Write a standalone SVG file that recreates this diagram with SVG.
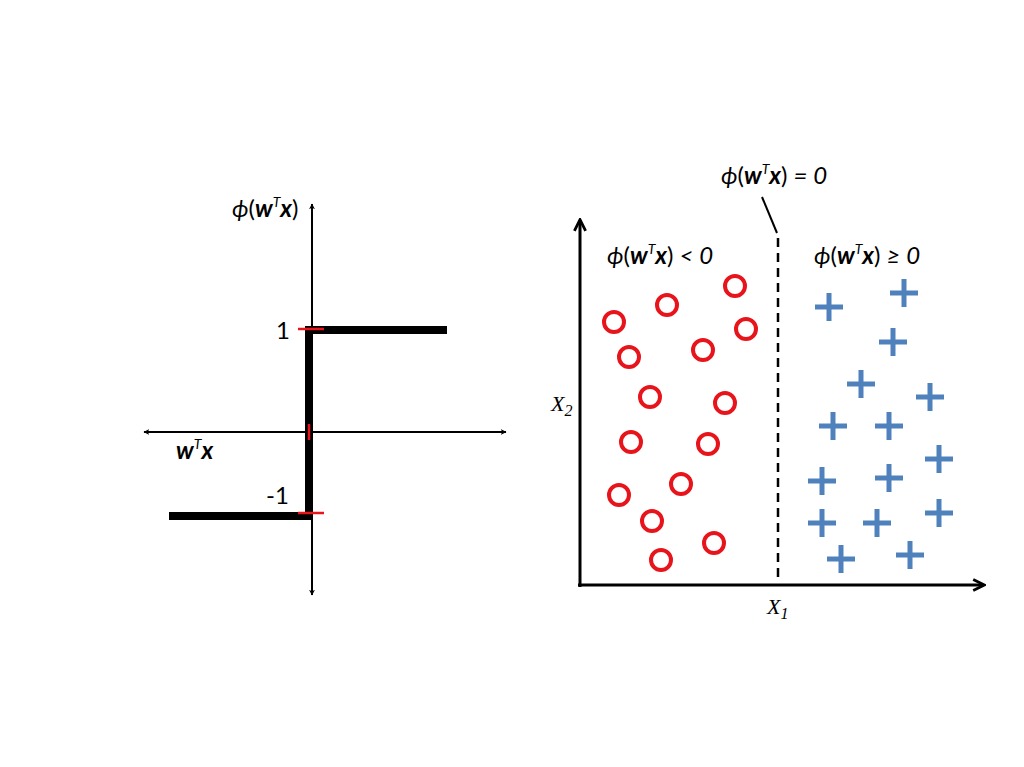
<svg xmlns="http://www.w3.org/2000/svg" width="1024" height="767" viewBox="0 0 1024 767">
<defs>
<marker id="ah" viewBox="0 0 10 10" refX="9" refY="5" markerWidth="6" markerHeight="6" orient="auto-start-reverse" markerUnits="userSpaceOnUse">
<path d="M0,0 L10,5 L0,10 L3,5 z" fill="#000"/>
</marker>
<marker id="ah2" viewBox="0 0 10 10" refX="8" refY="5" markerWidth="14" markerHeight="14" orient="auto-start-reverse" markerUnits="userSpaceOnUse">
<path d="M1,1 L9,5 L1,9" fill="none" stroke="#000" stroke-width="2"/>
</marker>
<style>
.lab{font-family:Lato,"Open Sans","Liberation Sans",sans-serif;font-size:24px;fill:#000}
.it{font-style:italic}
.b{font-weight:bold}
.sup{font-size:14px}
.ser{font-family:"Liberation Serif",serif;font-style:italic;font-size:22px;fill:#000}
.axis{stroke:#000;stroke-width:2;fill:none}
.step{stroke:#000;stroke-width:8;fill:none}
.tick{stroke:#e8141b;stroke-width:2.5}
.circ{fill:none;stroke:#e8141b;stroke-width:4}
.plus{stroke:#4f81bd;stroke-width:5}
</style>
</defs>
<rect width="1024" height="767" fill="#fff"/>

<g id="step-plot">
<line class="axis" x1="312" y1="595" x2="312" y2="204" marker-start="url(#ah)" marker-end="url(#ah)"/>
<line class="axis" x1="144" y1="432" x2="506" y2="432" marker-start="url(#ah)" marker-end="url(#ah)"/>
<path class="step" d="M447,330 H309 V516 H169"/>
<line class="tick" x1="298" y1="329" x2="324" y2="329"/>
<line class="tick" x1="298" y1="513" x2="324" y2="513"/>
<line class="tick" x1="309" y1="424" x2="309" y2="440"/>
<text class="lab" x="276" y="339">1</text>
<text class="lab" x="266" y="504">-1</text>
<text class="lab it b" x="176" y="459">w<tspan class="sup" dy="-10" font-weight="normal">T</tspan><tspan dy="10">x</tspan></text>
<text class="lab" x="232" y="217"><tspan class="it">ϕ</tspan>(<tspan class="it b">w</tspan><tspan class="it sup" dy="-10">T</tspan><tspan class="it b" dy="10">x</tspan>)</text>
</g>

<g id="scatter-axes">
<line x1="580" y1="587" x2="580" y2="221" stroke="#000" stroke-width="3" fill="none" marker-end="url(#ah2)"/>
<line x1="578" y1="585" x2="983" y2="585" stroke="#000" stroke-width="3" fill="none" marker-end="url(#ah2)"/>
<text class="ser" x="551" y="411">X<tspan font-size="16" dy="5">2</tspan></text>
<text class="ser" x="767" y="614">X<tspan font-size="16" dy="5">1</tspan></text>
</g>

<g id="boundary">
<line x1="778" y1="238" x2="778" y2="582" stroke="#000" stroke-width="2.5" stroke-dasharray="9,6"/>
<line x1="762" y1="197" x2="777" y2="233" stroke="#000" stroke-width="2"/>
<text class="lab" x="721" y="184"><tspan class="it">ϕ</tspan>(<tspan class="it b">w</tspan><tspan class="it sup" dy="-10">T</tspan><tspan class="it b" dy="10">x</tspan>) <tspan class="it">= 0</tspan></text>
<text class="lab" x="607" y="264"><tspan class="it">ϕ</tspan>(<tspan class="it b">w</tspan><tspan class="it sup" dy="-10">T</tspan><tspan class="it b" dy="10">x</tspan>) <tspan class="it">&lt; 0</tspan></text>
<text class="lab" x="814" y="264"><tspan class="it">ϕ</tspan>(<tspan class="it b">w</tspan><tspan class="it sup" dy="-10">T</tspan><tspan class="it b" dy="10">x</tspan>) <tspan class="it">≥ 0</tspan></text>
</g>

<g id="negatives">
<circle class="circ" cx="735" cy="286" r="10"/>
<circle class="circ" cx="667" cy="305" r="10"/>
<circle class="circ" cx="614" cy="322" r="10"/>
<circle class="circ" cx="746" cy="329" r="10"/>
<circle class="circ" cx="629" cy="357" r="10"/>
<circle class="circ" cx="703" cy="350" r="10"/>
<circle class="circ" cx="650" cy="397" r="10"/>
<circle class="circ" cx="725" cy="403" r="10"/>
<circle class="circ" cx="631" cy="442" r="10"/>
<circle class="circ" cx="708" cy="444" r="10"/>
<circle class="circ" cx="681" cy="484" r="10"/>
<circle class="circ" cx="619" cy="495" r="10"/>
<circle class="circ" cx="652" cy="521" r="10"/>
<circle class="circ" cx="714" cy="543" r="10"/>
<circle class="circ" cx="661" cy="560" r="10"/>
</g>

<g id="positives">
<path class="plus" d="M815,307h28M829,293v28"/>
<path class="plus" d="M890,293h28M904,279v28"/>
<path class="plus" d="M879,342h28M893,328v28"/>
<path class="plus" d="M847,384h28M861,370v28"/>
<path class="plus" d="M916,397h28M930,383v28"/>
<path class="plus" d="M819,426h28M833,412v28"/>
<path class="plus" d="M875,426h28M889,412v28"/>
<path class="plus" d="M925,459h28M939,445v28"/>
<path class="plus" d="M808,481h28M822,467v28"/>
<path class="plus" d="M875,478h28M889,464v28"/>
<path class="plus" d="M808,523h28M822,509v28"/>
<path class="plus" d="M863,523h28M877,509v28"/>
<path class="plus" d="M925,513h28M939,499v28"/>
<path class="plus" d="M827,559h28M841,545v28"/>
<path class="plus" d="M896,555h28M910,541v28"/>
</g>
</svg>
